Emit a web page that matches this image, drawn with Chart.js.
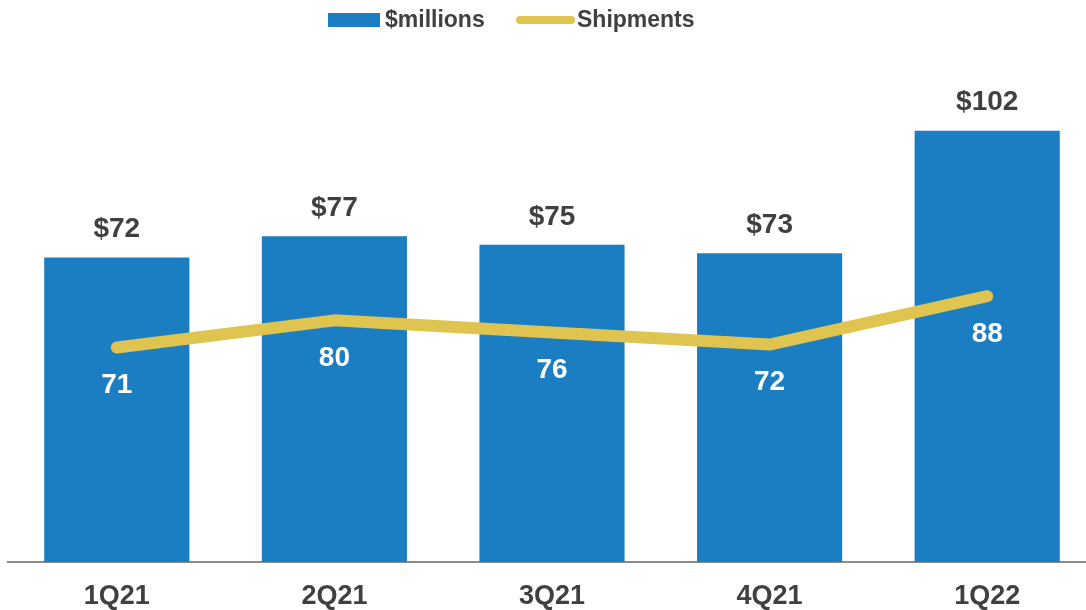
<!DOCTYPE html>
<html>
<head>
<meta charset="utf-8">
<script src="https://cdn.jsdelivr.net/npm/chart.js@4/dist/chart.umd.min.js"></script>
<style>
    html, body { margin: 0; padding: 0; background: #fff; overflow: hidden; }
    #wrap { position: relative; width: 1100px; height: 631px; }
</style>
</head>
<body>
<div id="wrap"><canvas id="revenueChart"></canvas></div>
<script>
// Chart data
const quarters = ['1Q21', '2Q21', '3Q21', '4Q21', '1Q22'];
const revenue = [72, 77, 75, 73, 102];
const shipments = [71, 80, 76, 72, 88];

const BAR_BLUE = '#1b7dc2';
const LINE_YELLOW = '#dfc54f';
const TEXT_GREY = '#404040';
const FONT = '"Liberation Sans", Arial, sans-serif';

// Value labels above bars and under line points
const valueLabels = {
    id: 'valueLabels',
    afterDatasetsDraw(chart) {
        const ctx = chart.ctx;
        ctx.save();
        ctx.font = `bold 28px ${FONT}`;
        ctx.textAlign = 'center';
        ctx.textBaseline = 'middle';

        chart.getDatasetMeta(1).data.forEach((bar, i) => {
            ctx.fillStyle = TEXT_GREY;
            ctx.fillText('$' + revenue[i], bar.x, bar.y - 28);
        });

        chart.getDatasetMeta(0).data.forEach((pt, i) => {
            ctx.fillStyle = '#ffffff';
            ctx.fillText(String(shipments[i]), pt.x, pt.y + 38);
        });
        ctx.restore();
    }
};

// Legend drawn at the top
const topLegend = {
    id: 'topLegend',
    afterDraw(chart) {
        const ctx = chart.ctx;
        ctx.save();
        ctx.font = `bold 23px ${FONT}`;
        ctx.textBaseline = 'middle';
        ctx.textAlign = 'left';

        ctx.fillStyle = BAR_BLUE;
        ctx.fillRect(328, 13, 52, 14);
        ctx.fillStyle = TEXT_GREY;
        ctx.fillText(chart.data.datasets[1].label, 385, 21);

        ctx.strokeStyle = LINE_YELLOW;
        ctx.lineWidth = 8;
        ctx.lineCap = 'round';
        ctx.beginPath();
        ctx.moveTo(520, 20);
        ctx.lineTo(571, 20);
        ctx.stroke();
        ctx.fillStyle = TEXT_GREY;
        ctx.fillText(chart.data.datasets[0].label, 577, 21);
        ctx.restore();
    }
};

const ctx = document.getElementById('revenueChart').getContext('2d');
new Chart(ctx, {
    type: 'bar',
    data: {
        labels: quarters,
        datasets: [
            {
                type: 'line',
                label: 'Shipments',
                data: shipments,
                yAxisID: 'y2',
                borderColor: LINE_YELLOW,
                backgroundColor: LINE_YELLOW,
                borderWidth: 12,
                borderCapStyle: 'round',
                borderJoinStyle: 'round',
                pointRadius: 0,
                tension: 0,
                order: 0
            },
            {
                label: '$millions',
                data: revenue,
                yAxisID: 'y',
                backgroundColor: BAR_BLUE,
                categoryPercentage: 1,
                barPercentage: 0.667,
                order: 1
            }
        ]
    },
    options: {
        responsive: true,
        maintainAspectRatio: false,
        animation: false,
        layout: {
            padding: { top: 60, left: 8, right: 4, bottom: 0 }
        },
        scales: {
            x: {
                grid: { display: false, drawTicks: false },
                border: { display: true, color: '#8c8c8c', width: 2 },
                ticks: {
                    color: TEXT_GREY,
                    padding: 21,
                    font: { family: FONT, size: 27, weight: 'bold', lineHeight: 1 }
                }
            },
            y: {
                display: false,
                min: 0,
                max: 118.7
            },
            y2: {
                display: false,
                min: 0,
                max: 166.2
            }
        },
        plugins: {
            legend: { display: false },
            tooltip: { enabled: false }
        }
    },
    plugins: [valueLabels, topLegend]
});
</script>
</body>
</html>
